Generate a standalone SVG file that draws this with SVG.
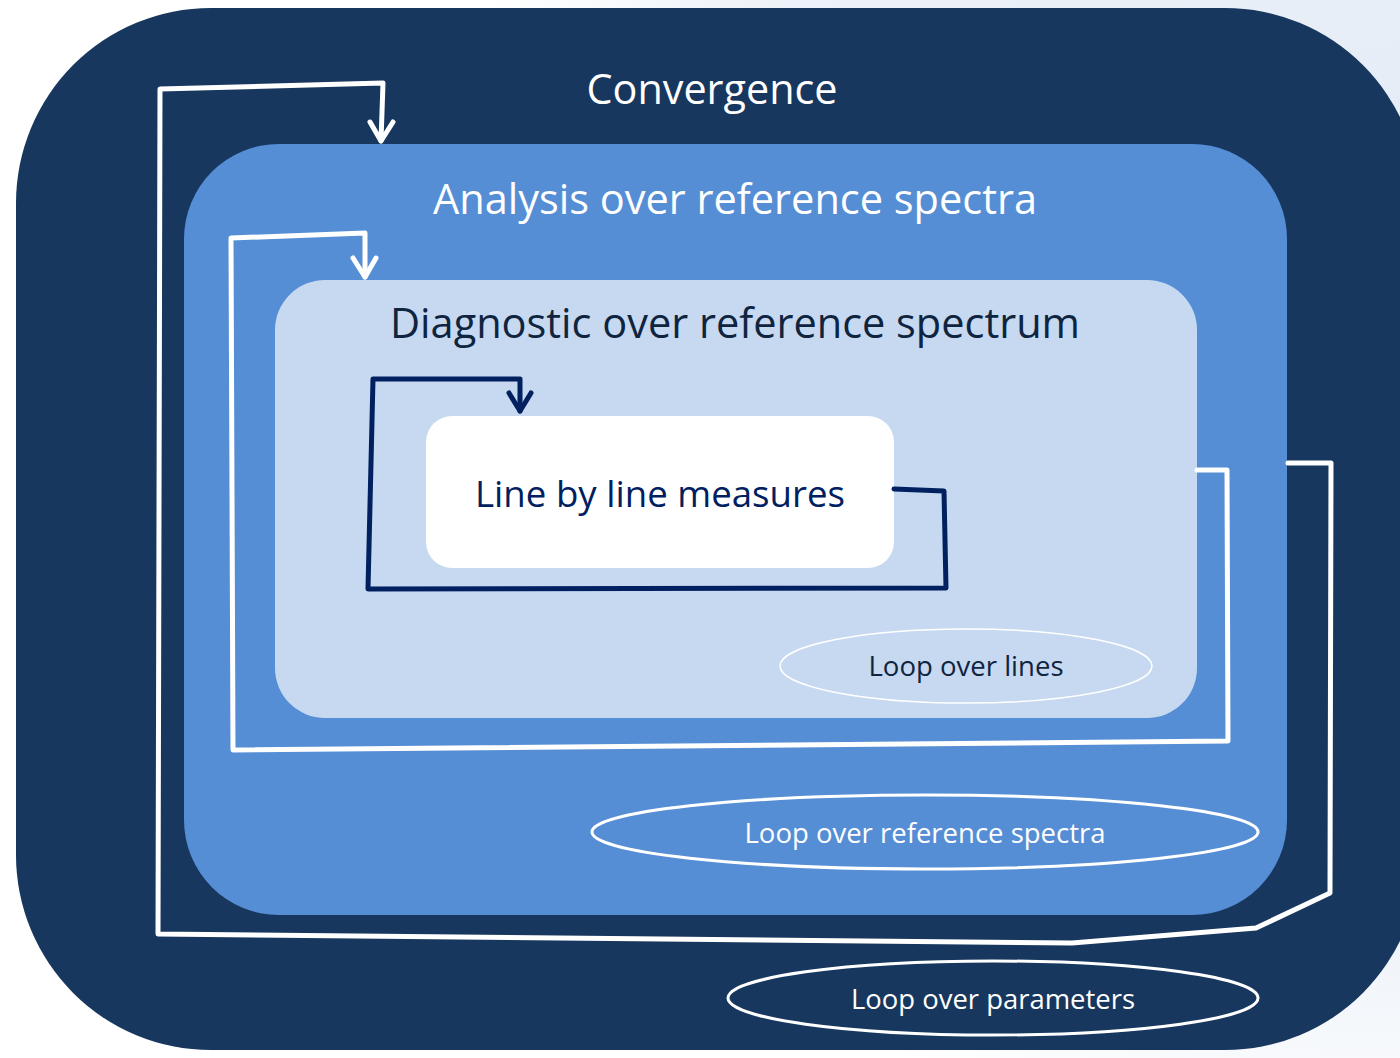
<svg xmlns="http://www.w3.org/2000/svg" width="1400" height="1058" viewBox="0 0 1400 1058">
<defs>
<radialGradient id="bg" cx="1400" cy="250" r="950" gradientUnits="userSpaceOnUse">
<stop offset="0" stop-color="#e3ebf5"/>
<stop offset="0.7" stop-color="#eef3f9"/>
<stop offset="1" stop-color="#ffffff"/>
</radialGradient>
</defs>
<style>
.t{font-family:"Open Sans","Noto Sans","Liberation Sans",sans-serif;text-anchor:middle}
.wline{fill:none;stroke:#ffffff;stroke-width:5;stroke-linejoin:round;stroke-linecap:round}
.nline{fill:none;stroke:#002060;stroke-width:5;stroke-linejoin:round;stroke-linecap:round}
.loop{fill:none;stroke:#ffffff}
</style>
<rect x="0" y="0" width="1400" height="1058" fill="url(#bg)"/>
<g id="convergence">
<rect x="16" y="8" width="1404" height="1042" rx="195" ry="195" fill="#17375e"/>
<text class="t" x="712" y="104" font-size="41.5" fill="#ffffff" textLength="251" lengthAdjust="spacingAndGlyphs">Convergence</text>
</g>
<g id="analysis">
<rect x="184" y="144" width="1103" height="771" rx="95" ry="95" fill="#558ed5"/>
<text class="t" x="735" y="214" font-size="41.5" fill="#ffffff" textLength="604" lengthAdjust="spacingAndGlyphs">Analysis over reference spectra</text>
</g>
<g id="diagnostic">
<rect x="275" y="280" width="922" height="438" rx="50" ry="50" fill="#c6d9f1"/>
<text class="t" x="735" y="338" font-size="41.5" fill="#0f243e" textLength="690" lengthAdjust="spacingAndGlyphs">Diagnostic over reference spectrum</text>
</g>
<g id="line-by-line">
<rect x="426" y="416" width="468" height="152" rx="26" ry="26" fill="#ffffff"/>
<text class="t" x="660" y="507" font-size="36.8" fill="#002060" textLength="370" lengthAdjust="spacingAndGlyphs">Line by line measures</text>
</g>
<g id="loop-lines">
<ellipse cx="966" cy="666" rx="186" ry="37" class="loop" stroke-width="1.5"/>
<text class="t" x="966" y="676" font-size="27.5" fill="#0f243e" textLength="195" lengthAdjust="spacingAndGlyphs">Loop over lines</text>
</g>
<g id="loop-spectra">
<ellipse cx="925" cy="832" rx="333" ry="37" class="loop" stroke-width="3"/>
<text class="t" x="925" y="843" font-size="27.5" fill="#ffffff" textLength="361" lengthAdjust="spacingAndGlyphs">Loop over reference spectra</text>
</g>
<g id="loop-parameters">
<ellipse cx="993" cy="998" rx="265" ry="37" class="loop" stroke-width="3"/>
<text class="t" x="993" y="1009" font-size="27.5" fill="#ffffff" textLength="284" lengthAdjust="spacingAndGlyphs">Loop over parameters</text>
</g>
<g id="connectors">
<path class="wline" d="M1288,463 L1331,463 L1330,893 L1256,928 L1072,943 L158,934 L160,89 L383,83 L381,141"/>
<path class="wline" d="M370,122 L381,141 L393,122"/>
<path class="wline" d="M1197,470 L1227,470 L1228,741 L233,750 L231,238 L365,233 L365,277"/>
<path class="wline" d="M353,258 L365,277 L376,258"/>
<path class="nline" d="M894,489 L944,491 L946,588 L368,589 L373,379 L520,379 L520,411"/>
<path class="nline" d="M509,393 L520,411 L531,393"/>
</g>
</svg>
